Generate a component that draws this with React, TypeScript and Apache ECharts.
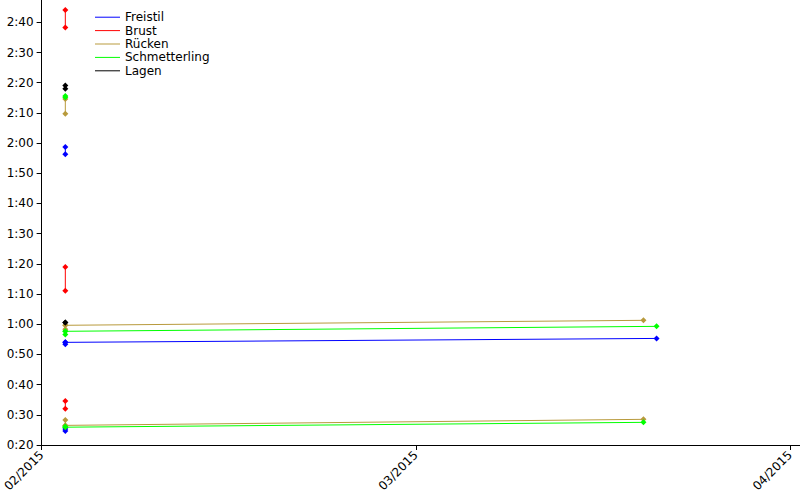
import React, { useEffect, useRef } from "react";
import * as echarts from "echarts";

// x values: days since 01.02.2015
const xTickValues = [0, 30, 60];
const xTickLabels = ["02/2015", "03/2015", "04/2015"];
const yTickValues = [20, 30, 40, 50, 60, 70, 80, 90, 100, 110, 120, 130, 140, 150, 160];

const strokes = ["Freistil", "Brust", "Rücken", "Schmetterling", "Lagen"];
const colors = ["#0000ff", "#ff0000", "#b89a3c", "#00ff00", "#000000"];

const startDay = 1.9;
// min/max times (seconds) at the first date, per stroke: 50m, 100m, 200m
const freistilRanges = [[24.6, 25.3], [53.4, 54.0], [116.3, 118.7]];
const brustRanges = [[32.0, 34.6], [71.1, 79.0], [158.3, 164.1]];
const rueckenRanges = [[26.5, 28.3], [58.3, 59.65], [129.7, 134.6]];
const schmetterlingRanges = [[25.9, 26.1], [56.6, 57.7], [135.2, 135.6]];
const lagenRanges = [[60.6, 60.6], [138.0, 139.1]];

// trend lines: stroke index, start time, end day, end time
const trendStroke = [0, 2, 3, 2, 3];
const trendStart = [54.0, 59.65, 57.66, 26.5, 25.9];
const trendEndDay = [49.3, 48.25, 49.3, 48.25, 48.25];
const trendEnd = [55.3, 61.3, 59.3, 28.5, 27.5];

const allRanges = [freistilRanges, brustRanges, rueckenRanges, schmetterlingRanges, lagenRanges];

const fmtTime = (v: number) => {
  const m = Math.floor(v / 60);
  const s = Math.round(v - m * 60);
  return m + ":" + (s < 10 ? "0" + s : "" + s);
};

export default function App() {
  const ref = useRef<HTMLDivElement>(null);
  useEffect(() => {
    if (!ref.current) return;
    const chart = echarts.init(ref.current, null, { renderer: "svg" });
    const series: any[] = [];
    const font = "DejaVu Sans";
    trendStroke.forEach((si, i) => {
      series.push({
        type: "line",
        name: strokes[si],
        data: [[startDay, trendStart[i]], [trendEndDay[i], trendEnd[i]]],
        symbol: "diamond",
        symbolSize: 6,
        lineStyle: { color: colors[si], width: 1 },
        itemStyle: { color: colors[si] },
        z: 2,
      });
    });
    allRanges.forEach((ranges, si) => {
      ranges.forEach((r) => {
        series.push({
          type: "line",
          name: strokes[si],
          data: [[startDay, r[0]], [startDay, r[1]]],
          symbol: "diamond",
          symbolSize: 6,
          lineStyle: { color: colors[si], width: 1 },
          itemStyle: { color: colors[si] },
          z: 3,
        });
      });
    });
    chart.setOption({
      animation: false,
      backgroundColor: "#ffffff",
      grid: { left: 41, right: 0, top: 0, bottom: 55 },
      legend: {
        data: strokes.map((n, i) => ({ name: n, itemStyle: { color: colors[i] } })),
        orient: "vertical",
        left: 95,
        top: 10.5,
        icon: "rect",
        itemWidth: 25,
        itemHeight: 1,
        itemGap: 0,
        padding: 0,
        textStyle: { fontFamily: font, fontSize: 12, color: "#000", lineHeight: 13.4 },
      },
      xAxis: {
        type: "value",
        min: 0,
        max: 60.8,
        interval: 30,
        splitLine: { show: false },
        axisLine: { lineStyle: { color: "#000", width: 1 } },
        axisTick: { length: 5, lineStyle: { color: "#000" }, customValues: xTickValues },
        axisLabel: {
          rotate: 45,
          margin: 8,
          fontFamily: font,
          fontSize: 12,
          color: "#000",
          customValues: xTickValues,
          formatter: (v: number) => {
            const i = xTickValues.indexOf(v);
            return i >= 0 ? xTickLabels[i] : "";
          },
        },
      },
      yAxis: {
        type: "value",
        min: 20,
        max: 167.4,
        interval: 10,
        splitLine: { show: false },
        axisLine: { show: true, lineStyle: { color: "#000", width: 1 } },
        axisTick: { show: true, length: 5, lineStyle: { color: "#000" }, customValues: yTickValues },
        axisLabel: {
          margin: 8,
          fontFamily: font,
          fontSize: 12,
          color: "#000",
          customValues: yTickValues,
          formatter: (v: number) => fmtTime(v),
        },
      },
      series,
    });
    return () => chart.dispose();
  }, []);
  return <div ref={ref} style={{ width: 800, height: 500, position: "absolute", left: 0, top: 0 }} />;
}
